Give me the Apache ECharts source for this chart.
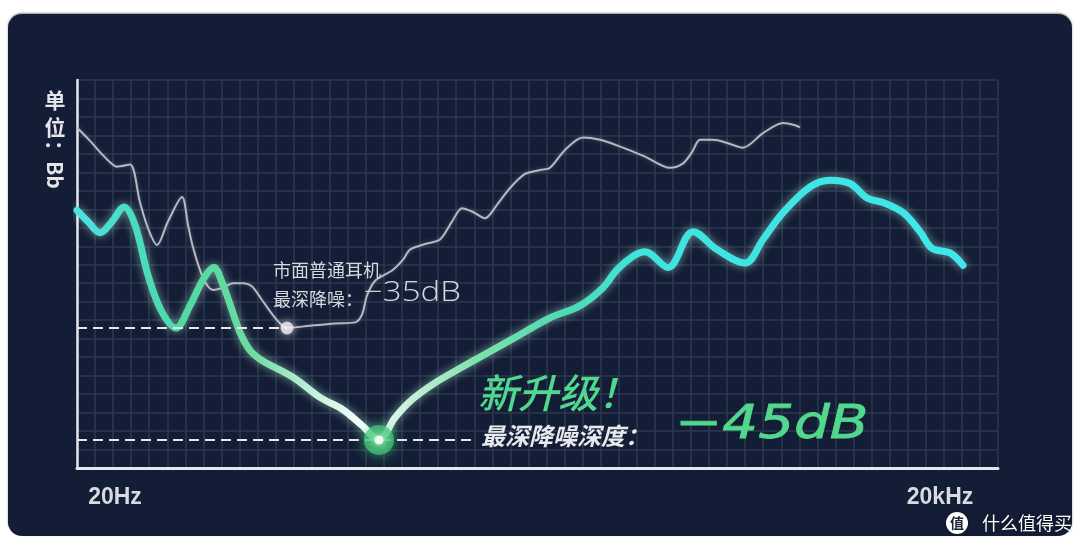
<!DOCTYPE html>
<html><head><meta charset="utf-8">
<script src="https://cdn.jsdelivr.net/npm/echarts@6/dist/echarts.min.js"></script>
<style>
html,body{margin:0;padding:0;background:#fff;width:1080px;height:549px;overflow:hidden}
#panel{position:absolute;left:8px;top:14px;width:1064px;height:522px;border-radius:14px;background:#131d35;box-shadow:0 -1px 2px rgba(0,0,0,.45)}
#chart{position:absolute;left:0;top:0;width:1080px;height:549px}
</style></head>
<body><div id="panel"></div><div id="chart"></div>
<script>
// ---- data ----
const freqTicks = [20, 20000];
const freqTickLabels = ['20Hz', '20kHz'];
const freqMin = 14.55, freqMax = 32500;      // axis extent (Hz)
const dbMin = -47.5, dbMax = -12.86;         // axis extent (dB)

// ordinary earphones (Hz, dB)
const grayFreq = [14.55,16.23,17.64,19.18,20.34,22.68,24.66,26.37,28.43,31.17,35.05,36.86,38.43,41.78,45.43,49.39,53.73,58.42,63.0,68.48,77.66,84.44,102.4,126.2,149.2,158.2,165.0,176.4,205.1,223.0,236.5,268.2,304.0,336.1,365.6,397.4,443.2,489.9,546.4,619.4,702.4,763.6,865.8,1007,1161,1338,1692,2085,2326,2507,2682,2990,3389,3842,4544,5373,5940,6193];
const grayDb = [-17.1,-18.3,-19.3,-20.2,-20.6,-20.4,-23.8,-26.1,-27.6,-25.5,-23.3,-25.8,-27.8,-30.5,-31.6,-31.4,-31.0,-31.0,-31.3,-32.5,-34.3,-35.0,-34.8,-34.6,-34.5,-33.8,-32.1,-30.8,-29.8,-28.9,-28.0,-27.5,-27.1,-25.5,-24.3,-24.6,-25.2,-24.0,-22.5,-21.25,-20.9,-20.7,-19.1,-18.0,-18.2,-18.7,-19.7,-20.7,-20.3,-19.3,-18.2,-18.2,-18.5,-18.9,-17.6,-16.7,-16.9,-17.1];

// new product (Hz, dB)
const newFreq = [14.55,15.95,17.64,19.5,21.57,23.65,26.37,29.39,33.33,37.49,41.78,45.81,48.98,53.28,56.96,61.93,68.48,88.82,111.3,134.9,158.2,182.4,208.6,240.4,291.5,359.4,461.9,594,763.6,981.8,1190,1338,1530,1692,2051,2528,3092,3908,4544,5373,6735,7962,9414,10855,12410,14675,16920,18710,21750,24250];
const newDb = [-24.5,-25.5,-26.5,-25.5,-24.2,-25.8,-30.3,-33.4,-35.0,-33.0,-30.7,-29.6,-30.9,-33.4,-35.4,-37.0,-37.9,-39.4,-41.2,-42.3,-43.7,-45.0,-43.0,-41.4,-39.9,-38.6,-37.1,-35.6,-34.1,-33.0,-31.4,-29.8,-28.6,-28.2,-29.6,-26.4,-28.0,-29.2,-27.1,-24.7,-22.4,-21.8,-22.1,-23.4,-23.8,-24.7,-26.4,-27.9,-28.3,-29.4];

const grayMinPt = [84.44, -35.0];
const newMinPt = [182.4, -45.0];
const newDashEndFreq = 397;

const unitLabel = ['单', '位', '：Bb'];
const grayNote = ['市面普通耳机', '最深降噪：', '−35dB'];
const newNote = ['新升级！', '最深降噪深度：', '−45dB'];
const watermark = ['值', '什么值得买'];

// ---- chart ----
const chart = echarts.init(document.getElementById('chart'), null, {renderer: 'canvas'});
const zip = (a, b) => a.map((v, i) => [v, b[i]]);
const cjk = '"Noto Sans CJK SC"';
const gridColor = '#2c384f';
const axisWhite = '#e6e7ea';

const thickGrad = new echarts.graphic.LinearGradient(0, 0, 1, 0, [
  {offset: 0.00, color: '#4ce2e2'},
  {offset: 0.06, color: '#49ddc6'},
  {offset: 0.12, color: '#4fd9a3'},
  {offset: 0.20, color: '#6cdc9f'},
  {offset: 0.27, color: '#c6f1da'},
  {offset: 0.33, color: '#ffffff'},
  {offset: 0.37, color: '#cdf2dd'},
  {offset: 0.45, color: '#7fe2ab'},
  {offset: 0.55, color: '#4fdab2'},
  {offset: 0.63, color: '#3fe4de'},
  {offset: 1.00, color: '#3ee7ec'}
]);

const option = {
  animation: false,
  backgroundColor: 'transparent',
  grid: {left: 77, right: 82, top: 80, bottom: 81},
  xAxis: [
    {type: 'value', min: 0, max: 51, interval: 1,
     axisLine: {show: true, lineStyle: {color: axisWhite, width: 3}},
     axisTick: {show: false}, axisLabel: {show: false},
     splitLine: {show: true, lineStyle: {color: gridColor, width: 1.5}}},
    {type: 'log', logBase: 10, min: freqMin, max: freqMax, position: 'bottom',
     axisLine: {show: false}, axisTick: {show: false}, splitLine: {show: false},
     axisLabel: {show: true, customValues: freqTicks, margin: 18,
       color: '#d7dae0', fontSize: 23, fontWeight: 'bold', fontFamily: 'Liberation Sans',
       formatter: function (v) {
         let best = 0, d = Infinity;
         freqTicks.forEach((t, i) => { const e = Math.abs(Math.log(v / t)); if (e < d) { d = e; best = i; } });
         return freqTickLabels[best];
       }}}
  ],
  yAxis: [
    {type: 'value', min: 0, max: 21, interval: 1,
     axisLine: {show: true, lineStyle: {color: axisWhite, width: 2.5}},
     axisTick: {show: false}, axisLabel: {show: false},
     splitLine: {show: true, lineStyle: {color: gridColor, width: 1.5}}},
    {type: 'value', min: dbMin, max: dbMax, show: false, splitLine: {show: false}}
  ],
  series: [
    {type: 'line', name: 'ordinary', xAxisIndex: 1, yAxisIndex: 1, data: zip(grayFreq, grayDb),
     smooth: 0.3, symbol: 'none', z: 3,
     lineStyle: {color: '#b6b9c1', width: 2, shadowBlur: 4, shadowColor: 'rgba(255,255,255,0.25)'},
     markLine: {silent: true, symbol: ['none', 'none'], label: {show: false},
       lineStyle: {color: '#e6e6e8', type: [10, 6], width: 2},
       data: [[{coord: [freqMin, grayMinPt[1]]}, {coord: grayMinPt}]]}},
    {type: 'line', name: 'new', xAxisIndex: 1, yAxisIndex: 1, data: zip(newFreq, newDb),
     smooth: 0.35, symbol: 'none', z: 4,
     lineStyle: {color: thickGrad, width: 7, cap: 'round', join: 'round',
       shadowBlur: 10, shadowColor: 'rgba(190,255,235,0.55)'},
     markLine: {silent: true, symbol: ['none', 'none'], label: {show: false},
       lineStyle: {color: '#e6e6e8', type: [10, 6], width: 2},
       data: [[{coord: [freqMin, newMinPt[1]]}, {coord: [newDashEndFreq, newMinPt[1]]}]]}},
    {type: 'scatter', xAxisIndex: 1, yAxisIndex: 1, data: [grayMinPt], symbolSize: 13, z: 6,
     itemStyle: {color: '#f4edf1', shadowBlur: 10, shadowColor: 'rgba(255,255,255,0.9)'}},
    {type: 'scatter', xAxisIndex: 1, yAxisIndex: 1, data: [newMinPt], symbolSize: 30, z: 6,
     itemStyle: {color: 'rgba(70,200,120,0.9)', shadowBlur: 14, shadowColor: 'rgba(80,220,140,0.9)'}},
    {type: 'scatter', xAxisIndex: 1, yAxisIndex: 1, data: [newMinPt], symbolSize: 9, z: 7,
     itemStyle: {color: '#ffffff', shadowBlur: 6, shadowColor: '#ffffff'}}
  ],
  graphic: [
    {type: 'text', x: 55, y: 100, z: 10, style: {text: unitLabel[0], font: 'bold 21px ' + cjk, fill: '#e3e5e9', align: 'center', verticalAlign: 'middle'}},
    {type: 'text', x: 55, y: 127, z: 10, style: {text: unitLabel[1], font: 'bold 21px ' + cjk, fill: '#e3e5e9', align: 'center', verticalAlign: 'middle'}},
    {type: 'text', x: 55, y: 140, rotation: -Math.PI / 2, z: 10, style: {text: unitLabel[2], font: 'bold 21px ' + cjk, fill: '#e3e5e9', align: 'left', verticalAlign: 'middle'}},

    {type: 'text', x: 273, y: 270, z: 10, style: {text: grayNote[0], font: '18px ' + cjk, fill: '#d6d8de', align: 'left', verticalAlign: 'middle'}},
    {type: 'text', x: 273, y: 299, z: 10, style: {text: grayNote[1], font: '18px ' + cjk, fill: '#d6d8de', align: 'left', verticalAlign: 'middle'}},
    {type: 'text', x: 364, y: 293, scaleX: 1.18, z: 10, style: {text: grayNote[2], font: '300 28px "Open Sans"', fill: '#d6d8de', align: 'left', verticalAlign: 'middle'}},

    {type: 'text', x: 478, y: 393, z: 10, style: {text: newNote[0], font: 'italic 500 40px ' + cjk, fill: '#50d88e', align: 'left', verticalAlign: 'middle'}},
    {type: 'text', x: 481, y: 436, z: 10, style: {text: newNote[1], font: 'italic bold 24px ' + cjk, fill: '#e8e9ec', align: 'left', verticalAlign: 'middle'}},
    {type: 'text', x: 675, y: 426, scaleX: 1.2, z: 10, style: {text: newNote[2], font: 'italic 47px "DejaVu Sans"', fill: '#52d88d', align: 'left', verticalAlign: 'middle', stroke: '#52d88d', lineWidth: 0.8}},

    {type: 'circle', z: 10, shape: {cx: 957, cy: 523, r: 11}, style: {fill: '#ffffff', shadowBlur: 3, shadowColor: 'rgba(0,0,0,0.4)'}},
    {type: 'text', x: 957, y: 523, z: 11, style: {text: watermark[0], font: 'bold 14px ' + cjk, fill: '#1d2438', align: 'center', verticalAlign: 'middle'}},
    {type: 'text', x: 982, y: 523, z: 11, style: {text: watermark[1], font: '18px ' + cjk, fill: '#ffffff', align: 'left', verticalAlign: 'middle', textShadowBlur: 3, textShadowColor: 'rgba(0,0,0,0.6)'}}
  ]
};
chart.setOption(option);
</script>
</body></html>
